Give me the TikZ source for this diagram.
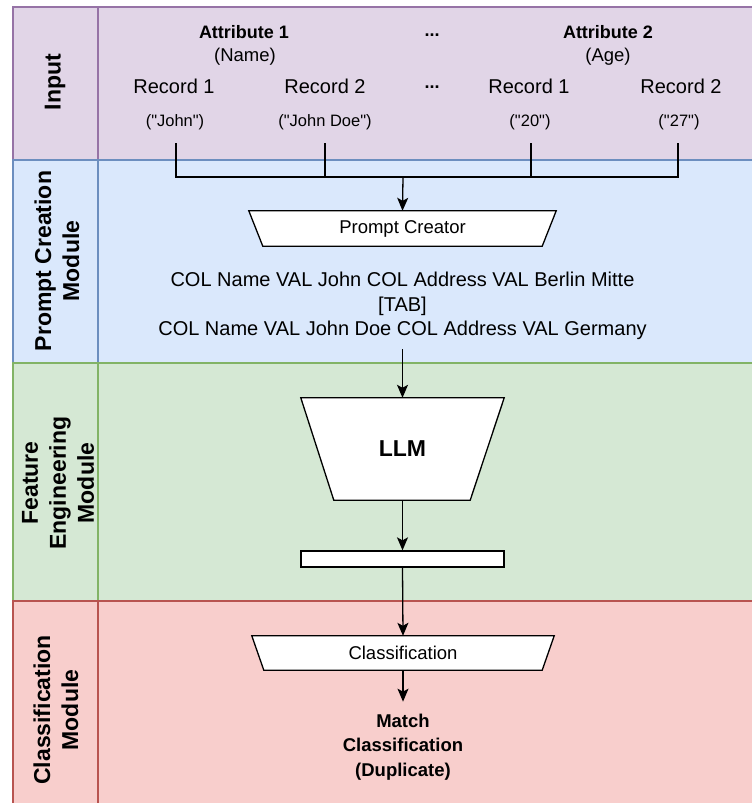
\documentclass[tikz,border=0pt]{standalone}
\usepackage{fontspec}
\setmainfont{Liberation Sans}[Ligatures=TeXOff]
\usetikzlibrary{arrows.meta}
\definecolor{inFill}{HTML}{E1D5E7}\definecolor{inLine}{HTML}{9673A6}
\definecolor{prFill}{HTML}{DAE8FC}\definecolor{prLine}{HTML}{6C8EBF}
\definecolor{feFill}{HTML}{D5E8D4}\definecolor{feLine}{HTML}{82B366}
\definecolor{clFill}{HTML}{F8CECC}\definecolor{clLine}{HTML}{B85450}
\newcommand{\fsz}[2]{\fontsize{#1}{#2}\selectfont}
\begin{document}
\begin{tikzpicture}[x=1pt,y=-1pt,
  lane/.style={line width=2pt},
  wire/.style={line width=1.3pt, draw=black},
  flow/.style={wire, -{Stealth[length=13pt,width=11pt,inset=3pt]}},
  lanelabel/.style={rotate=90, inner sep=0pt, align=center, font=\fsz{23}{28}\bfseries},
  txt/.style={inner sep=0pt, align=center},
  box/.style={draw=black, fill=white, line width=1.3pt},
  frame/.style={inner sep=0pt, minimum width=#1},
]
\useasboundingbox (0,0) rectangle (752,803);

% swimlanes: header column and body
\begin{scope}
\clip (0,0) rectangle (752,803);
\draw[lane, fill=inFill, draw=inLine] (13,7) rectangle (762,160);
\draw[lane, draw=inLine] (98,7) -- (98,160);
\draw[lane, fill=prFill, draw=prLine] (13,160) rectangle (762,363);
\draw[lane, draw=prLine] (98,160) -- (98,363);
\draw[lane, fill=feFill, draw=feLine] (13,363) rectangle (762,601);
\draw[lane, draw=feLine] (98,363) -- (98,601);
\draw[lane, fill=clFill, draw=clLine] (13,601) rectangle (762,815);
\draw[lane, draw=clLine] (98,601) -- (98,815);
\end{scope}

\node[lanelabel] (lbIn) at (55,82) {Input};
\node[lanelabel] (lbPr) at (57,261) {Prompt Creation\\Module};
\node[lanelabel] (lbFe) at (58,483) {Feature\\Engineering\\Module};
\node[lanelabel] (lbCl) at (56,710) {Classification\\Module};

% input records
\node[txt, font=\fsz{18}{22}\bfseries] (at1) at (244,32) {Attribute 1};
\node[txt, font=\fsz{18.5}{22}] (at1n) at (245,57) {(Name)};
\node[txt, font=\fsz{18}{22}\bfseries] (dots1) at (432,35) {...};
\node[txt, font=\fsz{18}{22}\bfseries] (at2) at (608,32) {Attribute 2};
\node[txt, font=\fsz{18.5}{22}] (at2n) at (608,57) {(Age)};

\node[txt, font=\fsz{20}{24}] (r11) at (174,86) {Record 1};
\node[txt, font=\fsz{20}{24}] (r12) at (325,86) {Record 2};
\node[txt, font=\fsz{18}{22}\bfseries] (dots2) at (432,87) {...};
\node[txt, font=\fsz{20}{24}] (r21) at (529,86) {Record 1};
\node[txt, font=\fsz{20}{24}] (r22) at (681,86) {Record 2};

\node[txt, font=\fsz{16.5}{20}] (v11) at (175,122) {("John")};
\node[txt, font=\fsz{16.5}{20}] (v12) at (325,122) {("John Doe")};
\node[txt, font=\fsz{16.5}{20}] (v21) at (530,122) {("20")};
\node[txt, font=\fsz{16.5}{20}] (v22) at (679,122) {("27")};

% collecting bus
\coordinate (t1) at (176,143); \coordinate (b1) at (176,177);
\coordinate (t2) at (325,143); \coordinate (b2) at (325,177);
\coordinate (t3) at (531,143); \coordinate (b3) at (531,177);
\coordinate (t4) at (678,143); \coordinate (b4) at (678,177);
\coordinate (bm) at (403,177);
\draw[wire] (t1) -- (b1) -- (b4) -- (t4);
\draw[wire] (t2) -- (b2);
\draw[wire] (t3) -- (b3);

% prompt creator
\node[frame=307pt, minimum height=35pt] (pc) at (402.5,228.5) {};
\draw[box] (pc.north west) -- (pc.north east) -- ([xshift=-14pt]pc.south east) -- ([xshift=14pt]pc.south west) -- cycle;
\node[txt, font=\fsz{18.5}{22}] (pcText) at (pc) {Prompt Creator};
\draw[flow] (bm) -- (pc.north);

\node[txt, inner ysep=9pt, font=\fsz{20}{24.5}] (prompt) at (402.5,306)
  {COL Name VAL John COL Address VAL Berlin Mitte\\{}[TAB]\\COL Name VAL John Doe COL Address VAL Germany};

% LLM
\node[frame=203pt, minimum height=102pt] (llm) at (402.5,449) {};
\draw[box] (llm.north west) -- (llm.north east) -- ([xshift=-34pt]llm.south east) -- ([xshift=33pt]llm.south west) -- cycle;
\node[txt, font=\fsz{23}{27}\bfseries] (llmText) at (llm) {LLM};
\draw[flow] (prompt.south) -- (llm.north);

% embedding
\node[box, frame=203pt, minimum height=16pt] (emb) at (402.5,559) {};
\draw[flow] (llm.south) -- (emb.north);

% classification
\node[frame=302pt, minimum height=34pt] (cls) at (403,653) {};
\draw[box] (cls.north west) -- (cls.north east) -- ([xshift=-12pt]cls.south east) -- ([xshift=12pt]cls.south west) -- cycle;
\node[txt, font=\fsz{18.5}{22}] (clsText) at (cls) {Classification};
\draw[flow] (emb.south) -- (cls.north);

\node[txt, inner ysep=12pt, font=\fsz{18.5}{24.5}\bfseries] (result) at (403,747)
  {Match\\Classification\\(Duplicate)};
\draw[flow] (cls.south) -- (result.north);
\end{tikzpicture}
\end{document}
